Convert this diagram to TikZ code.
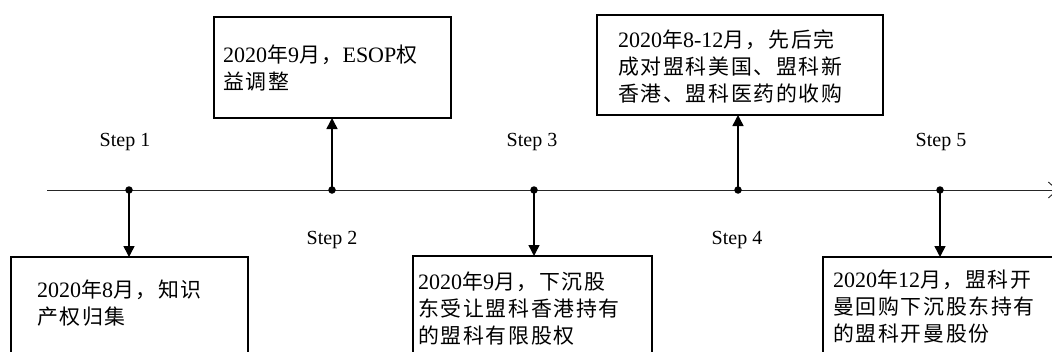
\documentclass[tikz,border=0pt]{standalone}
\usepackage{fontspec}
\setmainfont{Liberation Serif}
\newfontfamily\cjk{Noto Sans CJK SC}[Scale=0.95,LetterSpace=8]
\usetikzlibrary{arrows.meta}
\begin{document}
\begin{tikzpicture}[x=1pt,y=-1pt,
  box/.style={draw, line width=1.6pt, rectangle, anchor=north west, inner sep=0pt, outer sep=0pt},
  txt/.style={anchor=north west, inner sep=0pt, align=left, font=\fontsize{22}{27}\selectfont},
  steplbl/.style={inner sep=0pt, font=\fontsize{20}{24}\selectfont},
  dot/.style={circle, fill=black, inner sep=0pt, minimum size=7.5pt},
  stem/.style={line width=1.5pt, -{Triangle[length=11pt,width=11pt]}},
  axis/.style={line width=0.9pt, draw=black!85, -{Straight Barb[length=9pt,width=16pt,line width=0.9pt]}}]
\useasboundingbox (0,0) rectangle (1052,351);
\clip (0,0) rectangle (1052,351);
\fill[white] (0,0) rectangle (1052,351);

% timeline
\coordinate (ls) at (47,190);
\coordinate (le) at (1058,190);
\draw[axis] (ls) -- (le);

% boxes
\node[box, minimum width=237pt, minimum height=160pt] (b1) at (11,257) {};
\node[box, minimum width=237pt, minimum height=101pt] (b2) at (214,17) {};
\node[box, minimum width=239pt, minimum height=160pt] (b3) at (413,256) {};
\node[box, minimum width=286pt, minimum height=100pt] (b4) at (597,15) {};
\node[box, minimum width=239pt, minimum height=160pt] (b5) at (823,257) {};

% texts
\node[txt] (t1) at (37,280) {2020{\cjk 年}8{\cjk 月，知识}\\{\cjk 产权归集}};
\node[txt] (t2) at (223,45) {2020{\cjk 年}9{\cjk 月，}ESOP{\cjk 权}\\{\cjk 益调整}};
\node[txt] (t3) at (418,271.5) {2020{\cjk 年}9{\cjk 月，下沉股}\\{\cjk 东受让盟科香港持有}\\{\cjk 的盟科有限股权}};
\node[txt] (t4) at (618,29.5) {2020{\cjk 年}8-12{\cjk 月，先后完}\\{\cjk 成对盟科美国、盟科新}\\{\cjk 香港、盟科医药的收购}};
\node[txt] (t5) at (833,269.5) {2020{\cjk 年}12{\cjk 月，盟科开}\\{\cjk 曼回购下沉股东持有}\\{\cjk 的盟科开曼股份}};

% dots
\node[dot] (d1) at (129,190) {};
\node[dot] (d2) at (332,190) {};
\node[dot] (d3) at (534,190) {};
\node[dot] (d4) at (738,190) {};
\node[dot] (d5) at (940,190) {};

% arrows
\draw[stem] (d1.center) -- (d1 |- b1.north);
\draw[stem] (d2.center) -- (d2 |- b2.south);
\draw[stem] (d3.center) -- (d3 |- b3.north);
\draw[stem] (d4.center) -- (d4 |- b4.south);
\draw[stem] (d5.center) -- (d5 |- b5.north);

% step labels
\node[steplbl] (s1) at (125,142) {Step 1};
\node[steplbl] (s2) at (332,240) {Step 2};
\node[steplbl] (s3) at (532,142) {Step 3};
\node[steplbl] (s4) at (737,240) {Step 4};
\node[steplbl] (s5) at (941,142) {Step 5};
\end{tikzpicture}
\end{document}
